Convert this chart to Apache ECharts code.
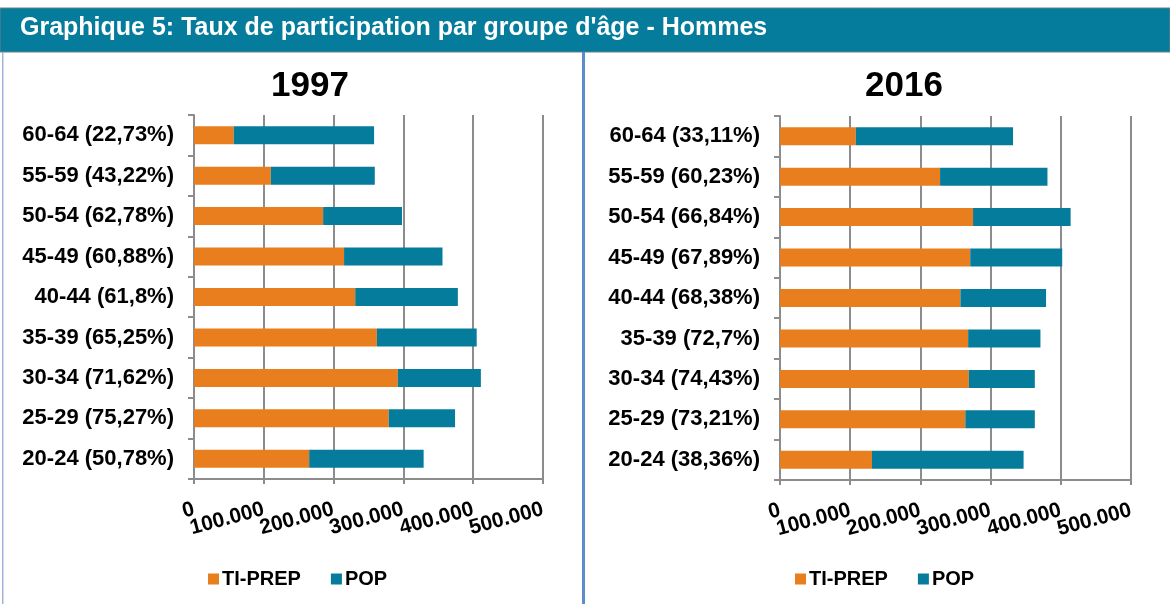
<!DOCTYPE html>
<html>
<head>
<meta charset="utf-8">
<script src="https://cdn.jsdelivr.net/npm/echarts@6/dist/echarts.min.js"></script>
<style>
  html, body { margin: 0; padding: 0; background: #fff; }
  #myecharts { width: 1170px; height: 604px; }
</style>
</head>
<body>
<div id="myecharts"></div>
<script>
// data (bottom to top)
var cats1997 = ['20-24 (50,78%)', '25-29 (75,27%)', '30-34 (71,62%)', '35-39 (65,25%)', '40-44 (61,8%)',
                '45-49 (60,88%)', '50-54 (62,78%)', '55-59 (43,22%)', '60-64 (22,73%)'];
var tiprep1997 = [165000, 279000, 292000, 262000, 231000, 215000, 185000, 110000, 57000];
var pop1997    = [164000, 95000, 119000, 143000, 147000, 141000, 113000, 149000, 201000];

var cats2016 = ['20-24 (38,36%)', '25-29 (73,21%)', '30-34 (74,43%)', '35-39 (72,7%)', '40-44 (68,38%)',
                '45-49 (67,89%)', '50-54 (66,84%)', '55-59 (60,23%)', '60-64 (33,11%)'];
var tiprep2016 = [131000, 264000, 269000, 268000, 257000, 271000, 275000, 228000, 108000];
var pop2016    = [216000, 99000, 94000, 103000, 122000, 131000, 139000, 153000, 224000];

var seriesNames = ['TI-PREP', 'POP'];
var colors = ['#E87E1E', '#067C9C'];
var xTicks = [0, 100000, 200000, 300000, 400000, 500000];

var myChart = echarts.init(document.getElementById('myecharts'));

function fmt(v) {
    return String(v).replace(/\B(?=(\d{3})+(?!\d))/g, '.');
}

var font = 'Liberation Sans, Arial, sans-serif';
var gridColor = '#8c8c8c';

// rotated labels overlap their neighbours, so every other label goes on an overlay axis
function labelStyle(parity) {
    return {
        rotate: 15, margin: 30, color: '#000', fontWeight: 'bold', fontSize: 21, fontFamily: font,
        hideOverlap: false, showMinLabel: true, showMaxLabel: true,
        formatter: function (v) {
            var i = xTicks.indexOf(v);
            return i % 2 === parity ? fmt(v) : '';
        }
    };
}
function xAxisFor(idx) {
    return {
        type: 'value', gridIndex: idx, min: 0, max: xTicks[xTicks.length - 1], interval: 100000,
        axisLine: { show: true, lineStyle: { color: gridColor, width: 2 } },
        axisTick: { show: true, length: 5, lineStyle: { color: gridColor, width: 2 } },
        splitLine: { show: true, lineStyle: { color: gridColor, width: 2 } },
        axisLabel: labelStyle(0)
    };
}
function xOddAxisFor(idx) {
    return {
        type: 'value', gridIndex: idx, position: 'bottom', min: 0, max: xTicks[xTicks.length - 1],
        interval: 100000,
        axisLine: { show: false }, axisTick: { show: false }, splitLine: { show: false },
        axisLabel: labelStyle(1)
    };
}
function yAxisFor(idx, cats) {
    return {
        type: 'category', gridIndex: idx, data: cats,
        axisLine: { show: true, lineStyle: { color: gridColor, width: 2 } },
        axisTick: { show: true, length: 6, lineStyle: { color: gridColor, width: 2 } },
        axisLabel: { margin: 20, color: '#000', fontWeight: 'bold', fontSize: 22, fontFamily: font }
    };
}
function bars(idx, a, b) {
    return [
        { name: seriesNames[0], type: 'bar', stack: 's' + idx, xAxisIndex: idx, yAxisIndex: idx,
          barWidth: 18, itemStyle: { color: colors[0] }, data: a },
        { name: seriesNames[1], type: 'bar', stack: 's' + idx, xAxisIndex: idx, yAxisIndex: idx,
          barWidth: 18, itemStyle: { color: colors[1] }, data: b }
    ];
}
function legendAt(x) {
    return {
        left: x, top: 564, icon: 'rect', itemWidth: 11, itemHeight: 11, itemGap: 30,
        selectedMode: false, data: seriesNames,
        textStyle: { color: '#000', fontWeight: 'bold', fontSize: 20, fontFamily: font, padding: [0, 0, 0, -2] }
    };
}

option = {
    animation: false,
    color: colors,
    graphic: [
        { type: 'rect', shape: { x: 0, y: 8, width: 1170, height: 44 },
          style: { fill: '#067C9C', stroke: '#6a7f88', lineWidth: 1 } },
        { type: 'text', left: 20, top: 16,
          style: { text: "Graphique 5: Taux de participation par groupe d'âge - Hommes",
                   fill: '#fff', font: 'bold 25px ' + font } },
        { type: 'rect', shape: { x: 2, y: 52, width: 1.5, height: 552 }, style: { fill: '#9fb4d8' } },
        { type: 'rect', shape: { x: 582, y: 52, width: 3, height: 552 }, style: { fill: '#5d8ccb' } }
    ],
    title: [
        { text: '1997', left: 305, top: 64, textAlign: 'center',
          textStyle: { fontSize: 35, fontWeight: 'bold', color: '#000', fontFamily: font } },
        { text: '2016', left: 899, top: 64, textAlign: 'center',
          textStyle: { fontSize: 35, fontWeight: 'bold', color: '#000', fontFamily: font } }
    ],
    legend: [legendAt(203), legendAt(790)],
    grid: [
        { left: 194, right: 627, top: 115, bottom: 125 },
        { left: 780, right: 39, top: 116, bottom: 124 }
    ],
    xAxis: [xAxisFor(0), xAxisFor(1), xOddAxisFor(0), xOddAxisFor(1)],
    yAxis: [yAxisFor(0, cats1997), yAxisFor(1, cats2016)],
    series: bars(0, tiprep1997, pop1997).concat(bars(1, tiprep2016, pop2016))
};

myChart.setOption(option);
</script>
</body>
</html>
